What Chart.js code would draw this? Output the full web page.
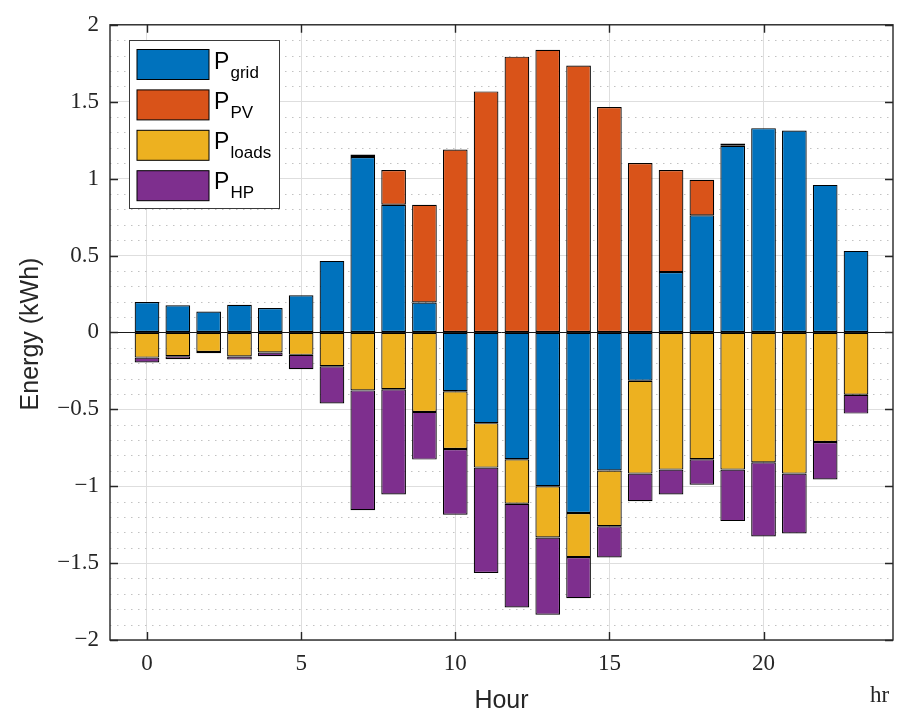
<!DOCTYPE html>
<html>
<head>
<meta charset="utf-8">
<title>Hourly energy balance</title>
<script src="https://cdn.jsdelivr.net/npm/chart.js@4.4.1/dist/chart.umd.min.js"></script>
<style>
  html, body { margin: 0; padding: 0; background: #ffffff; }
  #wrap { position: relative; width: 898px; height: 715px; }
</style>
</head>
<body>
<div id="wrap"><canvas id="energy" width="898" height="715"></canvas></div>
<script>
// Hour of day for each bar
const hours = [0, 1, 2, 3, 4, 5, 6, 7, 8, 9, 10, 11, 12, 13, 14, 15, 16, 17, 18, 19, 20, 21, 22, 23];

// Energy per hour (kWh); positive = supplied, negative = consumed / exported
const pGrid  = [0.198, 0.177, 0.136, 0.179, 0.158, 0.242, 0.465, 1.140, 0.830, 0.194,
                -0.383, -0.590, -0.825, -1.000, -1.174, -0.898, -0.314,
                0.392, 0.761, 1.213, 1.328, 1.312, 0.959, 0.530];
const pPV    = [0, 0, 0, 0, 0, 0, 0, 0.017, 0.226, 0.636, 1.189, 1.567, 1.793, 1.838,
                1.735, 1.465, 1.101, 0.664, 0.231, 0.015, 0, 0, 0, 0];
const pLoads = [-0.164, -0.155, -0.127, -0.157, -0.131, -0.146, -0.220, -0.377, -0.370, -0.517,
                -0.375, -0.289, -0.289, -0.334, -0.287, -0.362, -0.604,
                -0.892, -0.825, -0.892, -0.845, -0.918, -0.713, -0.405];
const pHP    = [-0.031, -0.019, -0.008, -0.020, -0.024, -0.093, -0.242, -0.779, -0.684, -0.310,
                -0.427, -0.685, -0.674, -0.502, -0.267, -0.203, -0.180,
                -0.162, -0.165, -0.335, -0.482, -0.390, -0.243, -0.123];

// Legend labels (subscripts of P)
const seriesNames = ['grid', 'PV', 'loads', 'HP'];
const seriesColors = ['#0072BD', '#D95319', '#EDB120', '#7E2F8E'];

// Axis ticks
const xTicks = [0, 5, 10, 15, 20];
const yTicks = [-2, -1.5, -1, -0.5, 0, 0.5, 1, 1.5, 2];

const AXIS = '#262626';
const SERIF = '"Liberation Serif", "DejaVu Serif", serif';
const SANS = '"Liberation Sans", Arimo, Helvetica, Arial, sans-serif';

function toPoints(values) {
  return hours.map((h, i) => ({ x: h, y: values[i] }));
}

const seriesValues = [pGrid, pPV, pLoads, pHP];
const datasets = seriesValues.map((vals, i) => ({
  label: 'P' + seriesNames[i],
  data: toPoints(vals),
  backgroundColor: seriesColors[i],
  borderColor: '#000000',
  borderWidth: 1.2,
  borderSkipped: false,
  barPercentage: 0.8,
  categoryPercentage: 1.0
}));

function fmtTick(v) {
  const r = Math.round(v * 10) / 10;
  if (r === 0) return '0';
  return (r < 0 ? '\u2212' : '') + String(Math.abs(r));
}

// Frame, minor grid, inward ticks, axis titles and legend
const decorations = {
  id: 'decorations',
  beforeDatasetsDraw(chart) {
    const { ctx, chartArea: a, scales: { y } } = chart;
    ctx.save();
    ctx.beginPath();
    ctx.rect(a.left, a.top, a.right - a.left, a.bottom - a.top);
    ctx.clip();
    ctx.strokeStyle = '#c2c2c2';
    ctx.lineWidth = 1;
    ctx.setLineDash([1.5, 5.5]);
    for (let k = -20; k <= 20; k++) {
      if (k % 5 === 0) continue;
      const py = Math.round(y.getPixelForValue(k / 10)) + 0.5;
      ctx.beginPath();
      ctx.moveTo(a.left, py);
      ctx.lineTo(a.right, py);
      ctx.stroke();
    }
    ctx.restore();
  },
  afterDatasetsDraw(chart) {
    const { ctx, chartArea: a, scales: { y } } = chart;
    const py = Math.round(y.getPixelForValue(0)) + 0.5;
    ctx.save();
    ctx.strokeStyle = '#1a1a1a';
    ctx.lineWidth = 1;
    ctx.beginPath();
    ctx.moveTo(a.left, py);
    ctx.lineTo(a.right, py);
    ctx.stroke();
    ctx.restore();
  },
  afterDraw(chart) {
    const { ctx, chartArea: a, scales: { x, y } } = chart;
    ctx.save();

    // axes box
    ctx.strokeStyle = AXIS;
    ctx.lineWidth = 1.4;
    ctx.strokeRect(a.left, a.top, a.right - a.left, a.bottom - a.top);

    // inward tick marks on all four sides
    const tl = 8;
    ctx.lineWidth = 1.4;
    ctx.beginPath();
    for (const v of xTicks) {
      const px = Math.round(x.getPixelForValue(v)) + 0.5;
      ctx.moveTo(px, a.bottom); ctx.lineTo(px, a.bottom - tl);
      ctx.moveTo(px, a.top); ctx.lineTo(px, a.top + tl);
    }
    for (const v of yTicks) {
      const py = Math.round(y.getPixelForValue(v)) + 0.5;
      ctx.moveTo(a.left, py); ctx.lineTo(a.left + tl, py);
      ctx.moveTo(a.right, py); ctx.lineTo(a.right - tl, py);
    }
    ctx.stroke();

    // axis titles
    ctx.fillStyle = AXIS;
    ctx.font = '25px ' + SANS;
    ctx.textAlign = 'center';
    ctx.textBaseline = 'alphabetic';
    ctx.fillText('Hour', (a.left + a.right) / 2, 708);

    ctx.save();
    ctx.translate(38, 334);
    ctx.rotate(-Math.PI / 2);
    ctx.fillText('Energy (kWh)', 0, 0);
    ctx.restore();

    ctx.font = '23px ' + SERIF;
    ctx.textAlign = 'left';
    ctx.fillText('hr', 870, 701.5);

    // legend
    const bx = 129.5, by = 40.5, bw = 150, bh = 168;
    ctx.fillStyle = '#ffffff';
    ctx.fillRect(bx, by, bw, bh);
    ctx.strokeStyle = '#3a3a3a';
    ctx.lineWidth = 1;
    ctx.strokeRect(bx, by, bw, bh);
    chart.data.datasets.forEach((ds, i) => {
      const sy = 49.5 + i * 40.4;
      ctx.fillStyle = ds.backgroundColor;
      ctx.fillRect(137, sy, 72, 30);
      ctx.strokeStyle = '#000000';
      ctx.strokeRect(137, sy, 72, 30);
      const base = 68.5 + i * 40.0;
      ctx.fillStyle = '#000000';
      ctx.font = '23px ' + SANS;
      ctx.textAlign = 'left';
      ctx.fillText('P', 214, base);
      ctx.font = '17px ' + SANS;
      ctx.fillText(seriesNames[i], 230.5, base + 9);
    });

    ctx.restore();
  }
};

new Chart(document.getElementById('energy'), {
  type: 'bar',
  data: { datasets },
  plugins: [decorations],
  options: {
    responsive: false,
    animation: false,
    devicePixelRatio: 1,
    layout: { padding: { top: 21, right: 5, left: 0, bottom: 0 } },
    plugins: {
      legend: { display: false },
      tooltip: { enabled: false },
      title: { display: false }
    },
    scales: {
      x: {
        type: 'linear',
        stacked: true,
        offset: false,
        min: -1.2,
        max: 24.2,
        afterFit(s) { s.height = 75; },
        afterBuildTicks(s) { s.ticks = xTicks.map(v => ({ value: v })); },
        ticks: {
          includeBounds: false,
          stepSize: 5,
          padding: 10,
          color: AXIS,
          font: { family: SERIF, size: 23 },
          maxRotation: 0,
          autoSkip: false,
          callback: (v) => fmtTick(v)
        },
        grid: { color: '#dedede', lineWidth: 1, drawTicks: false, offset: false },
        border: { display: false }
      },
      y: {
        type: 'linear',
        stacked: true,
        min: -2,
        max: 2,
        afterFit(s) { s.width = 110; },
        afterBuildTicks(s) { s.ticks = yTicks.map(v => ({ value: v })); },
        ticks: {
          stepSize: 0.5,
          padding: 11,
          color: AXIS,
          font: { family: SERIF, size: 23 },
          autoSkip: false,
          callback: (v) => fmtTick(v)
        },
        grid: { color: '#dedede', lineWidth: 1, drawTicks: false },
        border: { display: false }
      }
    }
  }
});
</script>
</body>
</html>
